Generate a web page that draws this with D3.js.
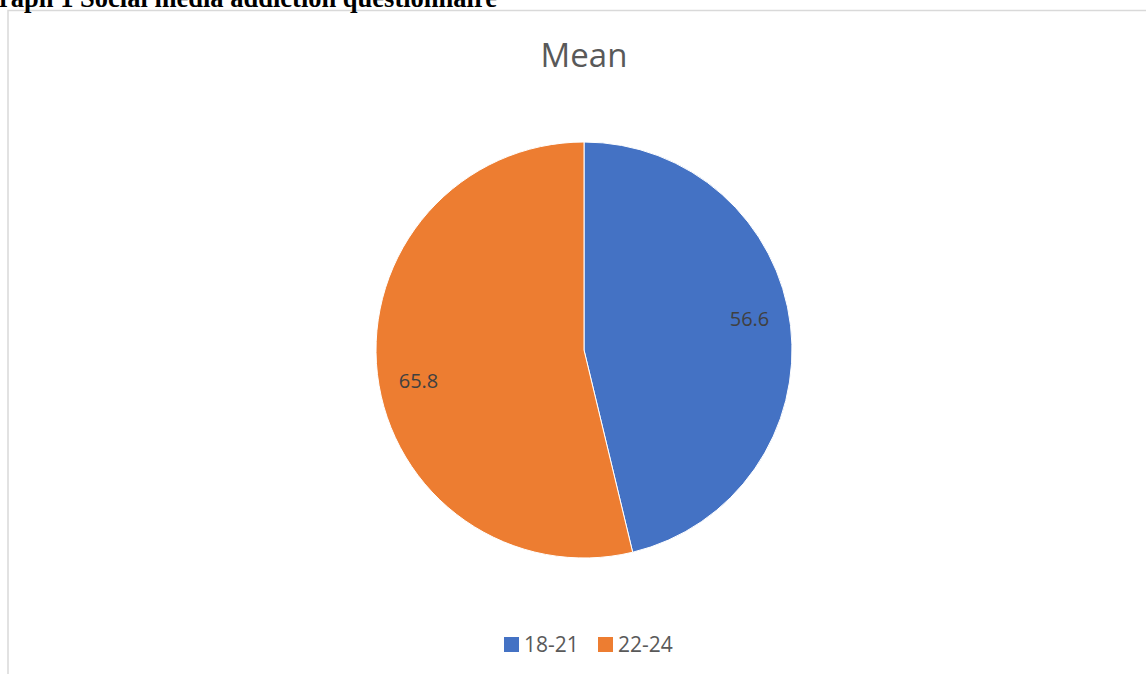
<!DOCTYPE html>
<html lang="en">
<head>
    <meta charset="utf-8">
    <script src="https://cdnjs.cloudflare.com/ajax/libs/d3/7.8.5/d3.min.js"></script>
</head>
<style>
    body { margin: 0; background: #fff; overflow: hidden; }
    svg { display: block; }
</style>
<body>
<div id="chart"></div>
<script type="text/javascript">
  // chart data
  const categories = ["18-21", "22-24"];
  const meanValues = [56.6, 65.8];
  const sliceColors = ["#4472c4", "#ed7d31"];
  const chartTitle = "Mean";
  const captionText = "Graph 1 Social media addiction questionnaire";

  const svgWidth = 1146, svgHeight = 674;
  const cx = 584, cy = 350, radius = 208;

  const svg = d3.select("#chart")
    .append("svg")
    .attr("width", svgWidth)
    .attr("height", svgHeight);

  // chart area frame (only left and top edge visible)
  svg.append("rect")
    .attr("x", 8)
    .attr("y", 10.5)
    .attr("width", svgWidth + 20)
    .attr("height", svgHeight + 20)
    .attr("fill", "none")
    .attr("stroke", "#d9d9d9")
    .attr("stroke-width", 1.5);

  // caption of the document, cut at the top of the page
  svg.append("text")
    .attr("x", 497)
    .attr("y", 7)
    .attr("text-anchor", "end")
    .style("font-family", "'Liberation Serif', 'Times New Roman', serif")
    .style("font-weight", "bold")
    .style("font-size", "26.5px")
    .attr("fill", "#000")
    .text(captionText);

  // title
  svg.append("text")
    .attr("x", cx)
    .attr("y", 67)
    .attr("text-anchor", "middle")
    .style("font-family", "'Open Sans', sans-serif")
    .style("font-size", "33px")
    .attr("fill", "#595959")
    .text(chartTitle);

  const data = categories.map((c, i) => ({ cat: c, value: meanValues[i], color: sliceColors[i] }));

  const pie = d3.pie().sort(null).value(d => d.value);
  const arc = d3.arc().innerRadius(0).outerRadius(radius);
  const labelR = radius * 0.81;
  const labelShift = -4 * Math.PI / 180;

  const g = svg.append("g").attr("transform", "translate(" + cx + "," + cy + ")");

  const arcs = pie(data);

  g.selectAll("path")
    .data(arcs)
    .enter().append("path")
    .attr("d", arc)
    .attr("fill", d => d.data.color)
    .attr("stroke", "#fff")
    .attr("stroke-width", 1);

  g.selectAll("text.lbl")
    .data(arcs)
    .enter().append("text")
    .attr("class", "lbl")
    .attr("transform", d => {
      const a = (d.startAngle + d.endAngle) / 2 + labelShift;
      return "translate(" + (labelR * Math.sin(a)) + "," + (-labelR * Math.cos(a)) + ")";
    })
    .attr("dy", "0.35em")
    .attr("text-anchor", "middle")
    .style("font-family", "'Open Sans', sans-serif")
    .style("font-size", "20px")
    .attr("fill", "#404040")
    .text(d => d.data.value);

  // legend
  const legendX = [504, 598];
  const legend = svg.append("g");
  data.forEach((d, i) => {
    legend.append("rect")
      .attr("x", legendX[i])
      .attr("y", 637)
      .attr("width", 15)
      .attr("height", 15)
      .attr("fill", d.color);
    legend.append("text")
      .attr("x", legendX[i] + 20)
      .attr("y", 652)
      .style("font-family", "'Open Sans', sans-serif")
      .style("font-size", "21px")
      .attr("fill", "#595959")
      .text(d.cat);
  });
</script>
</body>
</html>
